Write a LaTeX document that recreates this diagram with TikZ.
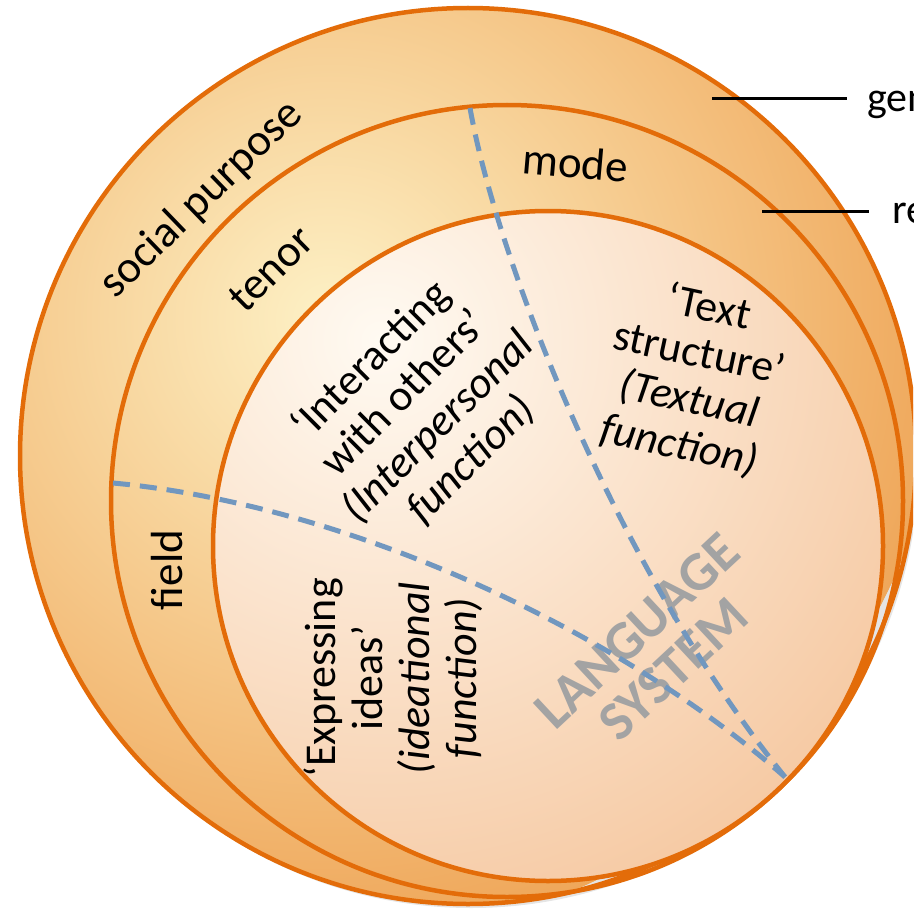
\documentclass[tikz,border=0pt]{standalone}
\usepackage{fontspec}
\setmainfont{Carlito}
\definecolor{rimorange}{HTML}{E36C09}
\definecolor{ringlight}{HTML}{FDF1C6}
\definecolor{ringdark}{HTML}{EFA75A}
\definecolor{corelight}{HTML}{FFFAF2}
\definecolor{coredark}{HTML}{F6CAA4}
\definecolor{divblue}{HTML}{7197BF}
\definecolor{sysgray}{HTML}{A3A3A3}
\begin{document}
\begin{tikzpicture}[x=1pt,y=-1pt,
  rim/.style={draw=rimorange,line width=4.5pt},
  divider/.style={draw=divblue,line width=5pt,dash pattern=on 17pt off 10pt},
  pointer/.style={draw=black,line width=3pt},
  ringlabel/.style={font=\fontsize{45}{50}\selectfont,anchor=base,inner sep=0pt},
  sidelabel/.style={font=\fontsize{42}{50}\selectfont,anchor=base west,inner sep=0pt},
  fnlabel/.style={font=\fontsize{44}{47}\selectfont,align=center,inner sep=0pt},
  syslabel/.style={font=\fontsize{55}{53}\selectfont\bfseries,text=sysgray,align=center,inner sep=0pt}]
\useasboundingbox (0,0) rectangle (913,915);
\clip (0,0) rectangle (913,915);

% centres of the three nested circles
\coordinate (c1) at (468,456);
\coordinate (c2) at (507,501);
\coordinate (c3) at (548,546);

% soft shadow under the outer disc
\fill[black,opacity=0.10] ([shift={(3,4)}]c1) circle (448);

% genre ring
\begin{scope}
  \clip (c1) circle (448);
  \shade[inner color=ringlight,outer color=ringdark] (330,320) circle (620);
\end{scope}
\draw[rim] (c1) circle (448);

% register ring
\begin{scope}
  \clip (c2) circle (396);
  \shade[inner color=ringlight,outer color=ringdark] (330,320) circle (620);
\end{scope}
\draw[rim] (c2) circle (396);

% language system core
\begin{scope}
  \clip (c3) circle (335);
  \shade[inner color=corelight,outer color=coredark] (380,340) circle (600);
\end{scope}
\draw[rim] (c3) circle (335);

% ring labels
\node[ringlabel,rotate=44] (social) at (210,208) {social purpose};
\node[ringlabel,rotate=44.5] (tenor) at (281,279) {tenor};
\node[ringlabel,rotate=-5] (mode) at (574,178) {mode};
\node[ringlabel,rotate=90] (field) at (182,570) {field};

% metafunction labels
\node[fnlabel,rotate=45] (interp) at (421,410)
  {‘Interacting\\with others’\\\textit{(Interpersonal}\\\textit{function)}};
\node[fnlabel,rotate=-12] (textual) at (694,377)
  {‘Text\\structure’\\\textit{(Textual}\\\textit{function)}};
\node[fnlabel,rotate=90] (ideat) at (393,678)
  {‘Expressing\\ideas’\\\textit{(ideational}\\\textit{function)}};

\node[syslabel,rotate=43] (system) at (655,650) {LANGUAGE\\SYSTEM};

% dividing lines between the field, tenor and mode sectors
\coordinate (mtop) at (470,108);
\coordinate (fleft) at (113,483);
\coordinate (tip) at (785,777);
\draw[divider] (mtop) .. controls (495,250) and (610,560) .. (tip);
\draw[divider] (fleft) .. controls (350,505) and (620,632) .. (tip);

% side labels with their pointers
\node[sidelabel] (genre) at (867,112) {genre};
\node[sidelabel] (register) at (892,223) {register};
\coordinate (gtail) at (712,99);
\coordinate (rtail) at (762,211);
\draw[pointer] (gtail) -- ([xshift=-20pt]gtail -| genre.west);
\draw[pointer] (rtail) -- ([xshift=-23pt]rtail -| register.west);
\end{tikzpicture}
\end{document}
